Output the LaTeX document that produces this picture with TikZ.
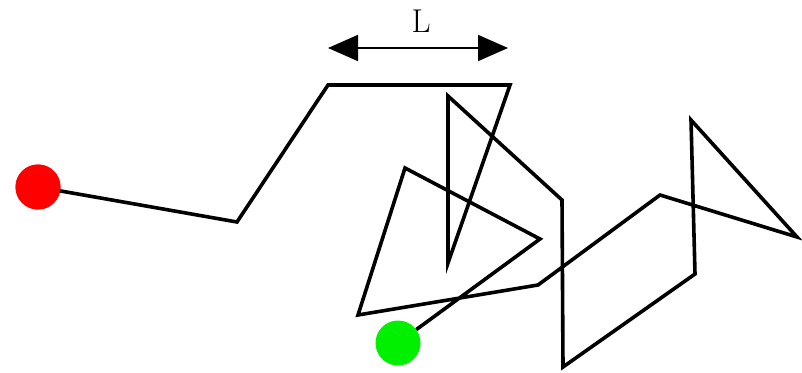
\documentclass[tikz,border=0pt]{standalone}
\usetikzlibrary{arrows.meta}
\begin{document}
\begin{tikzpicture}[x=1pt,y=-1pt,
  walk/.style={line width=3.6pt,line join=miter,black},
  dot/.style={circle,inner sep=0pt,minimum size=45pt},
  dim/.style={line width=1.8pt,{Triangle[length=30pt,width=26pt]}-{Triangle[length=30pt,width=26pt]}}]
\useasboundingbox (0,0) rectangle (802,372);
\coordinate (p1) at (237,222);
\coordinate (p2) at (328,85);
\coordinate (p3) at (510,85);
\coordinate (p4) at (448,263);
\coordinate (p5) at (448,96);
\coordinate (p6) at (562,200);
\coordinate (p7) at (563,367);
\coordinate (p8) at (695,274);
\coordinate (p9) at (691,120);
\coordinate (p10) at (797,237);
\coordinate (p11) at (660,195);
\coordinate (p12) at (538,285);
\coordinate (p13) at (358,315);
\coordinate (p14) at (405,168);
\coordinate (p15) at (540,239);
\node[dot,fill=red] (start) at (38,187) {};
\node[dot,fill={rgb,255:red,0;green,240;blue,0}] (end) at (398,343) {};
\draw[walk] (start.center) -- (p1) -- (p2) -- (p3) -- (p4) -- (p5) -- (p6) -- (p7) -- (p8) -- (p9) -- (p10) -- (p11) -- (p12) -- (p13) -- (p14) -- (p15) -- (end);
\node[dot,fill=red] at (start) {};
\coordinate (la) at (328,48);
\coordinate (lb) at (508,48);
\draw[dim] (la) -- (lb);
\node[font=\fontsize{33}{36}\selectfont,inner sep=0pt] (lab) at (421,21) {L};
\end{tikzpicture}
\end{document}
